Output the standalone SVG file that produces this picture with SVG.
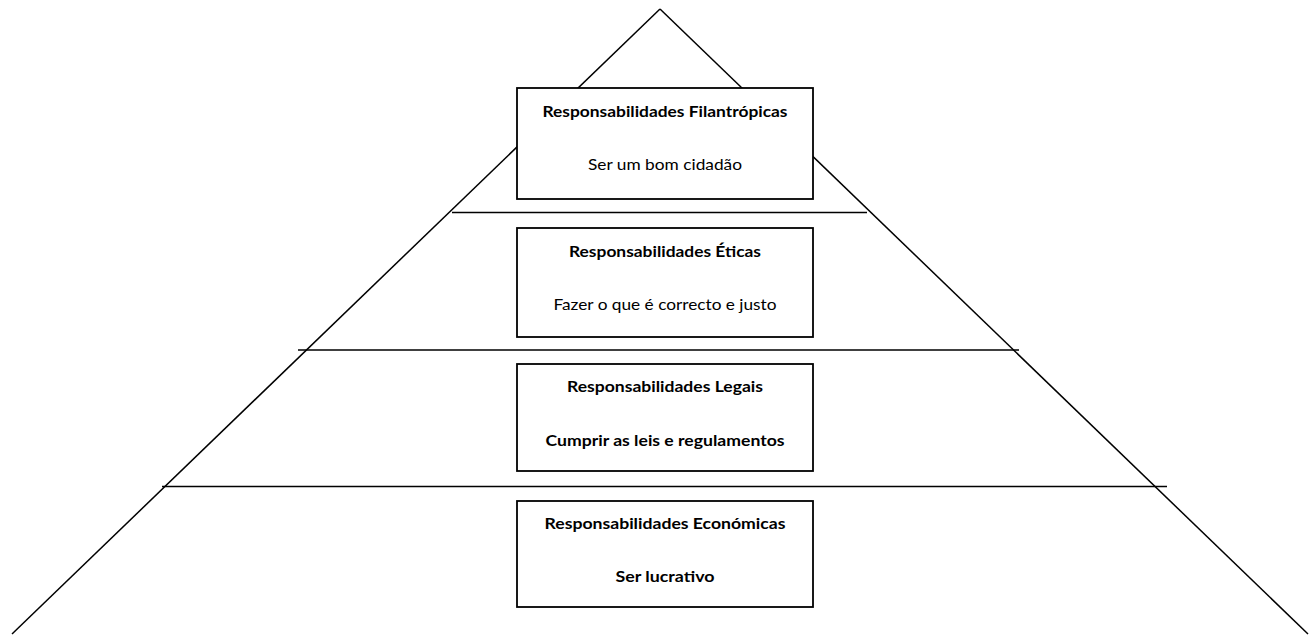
<svg xmlns="http://www.w3.org/2000/svg" width="1314" height="635" viewBox="0 0 1314 635">
<style>
.ln{stroke:#000;stroke-width:1.5;fill:none}
.box{fill:#fff;stroke:#000;stroke-width:1.8}
.t{font-family:Lato,"Liberation Sans",sans-serif;font-size:15px;fill:#000;text-anchor:middle}
.b{font-weight:bold}
</style>
<rect width="1314" height="635" fill="#fff"/>
<g id="connectors">
<line class="ln" x1="660" y1="9" x2="12" y2="634"/>
<line class="ln" x1="660" y1="9" x2="1308" y2="634"/>
<line class="ln" x1="452" y1="212.5" x2="867" y2="212.5"/>
<line class="ln" x1="298" y1="350" x2="1019" y2="350"/>
<line class="ln" x1="162" y1="486.5" x2="1167" y2="486.5"/>
</g>
<g id="filantropicas">
<rect class="box" x="517" y="88" width="296" height="111"/>
<text class="t b" x="665" y="117" textLength="245" lengthAdjust="spacingAndGlyphs">Responsabilidades Filantrópicas</text>
<text class="t" x="665" y="170" textLength="154" lengthAdjust="spacingAndGlyphs">Ser um bom cidadão</text>
</g>
<g id="eticas">
<rect class="box" x="517" y="228" width="296" height="109"/>
<text class="t b" x="665" y="257" textLength="192" lengthAdjust="spacingAndGlyphs">Responsabilidades Éticas</text>
<text class="t" x="665" y="310" textLength="223" lengthAdjust="spacingAndGlyphs">Fazer o que é correcto e justo</text>
</g>
<g id="legais">
<rect class="box" x="517" y="364" width="296" height="107"/>
<text class="t b" x="665" y="392" textLength="196" lengthAdjust="spacingAndGlyphs">Responsabilidades Legais</text>
<text class="t b" x="665" y="446" textLength="239" lengthAdjust="spacingAndGlyphs">Cumprir as leis e regulamentos</text>
</g>
<g id="economicas">
<rect class="box" x="517" y="501" width="296" height="106"/>
<text class="t b" x="665" y="529" textLength="241" lengthAdjust="spacingAndGlyphs">Responsabilidades Económicas</text>
<text class="t b" x="665" y="582" textLength="99" lengthAdjust="spacingAndGlyphs">Ser lucrativo</text>
</g>
</svg>
